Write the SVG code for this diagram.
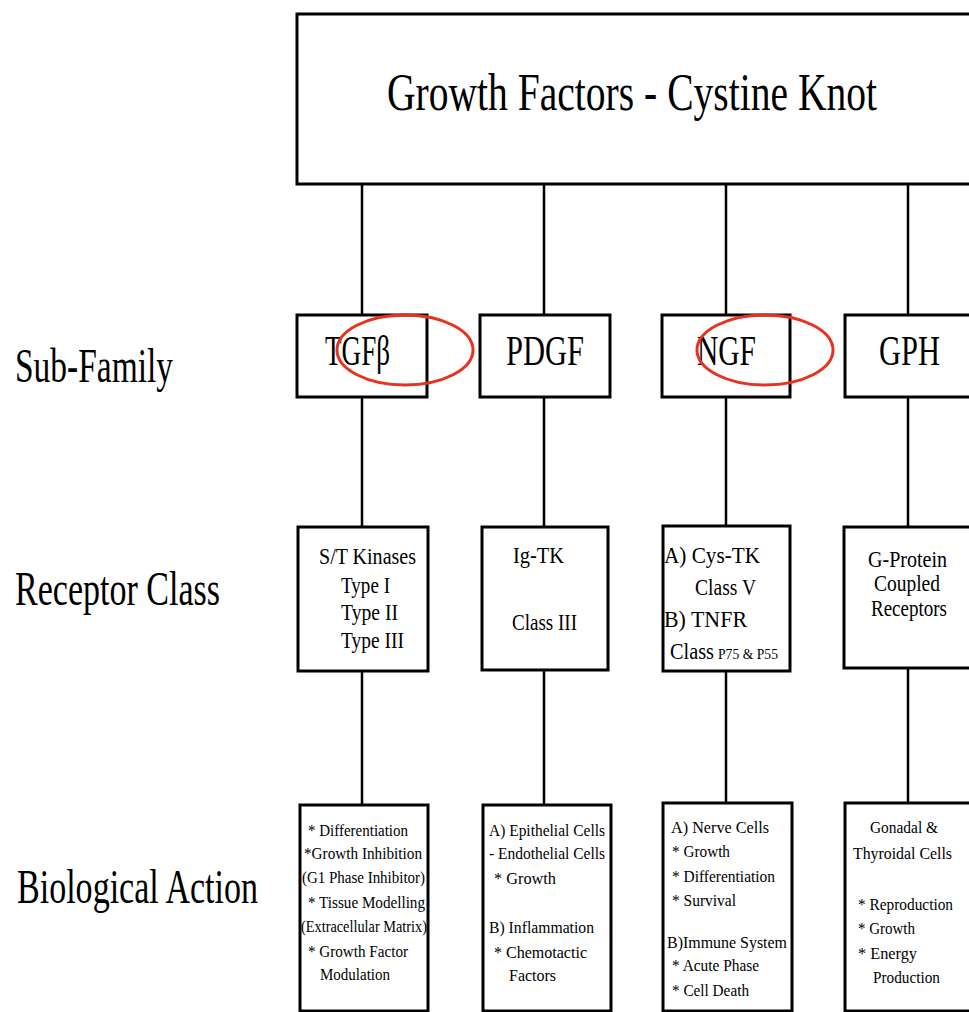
<svg xmlns="http://www.w3.org/2000/svg" width="969" height="1012" viewBox="0 0 969 1012">
<style>
.box{fill:#fff;stroke:#000;stroke-width:3}
.conn{stroke:#000;stroke-width:2.5;fill:none}
.t{font-family:"Liberation Serif","Times New Roman",serif;fill:#000}
.title{font-size:53px}
.row{font-size:48px}
.sub{font-size:42px}
.rc{font-size:24px}
.ba{font-size:16px}
.ring{fill:none;stroke:#e8321e;stroke-width:3}
</style>
<rect width="969" height="1012" fill="#fff"/>
<g id="connectors">
<line class="conn" x1="362" y1="184" x2="362" y2="314"/>
<line class="conn" x1="544" y1="184" x2="544" y2="314"/>
<line class="conn" x1="726" y1="184" x2="726" y2="314"/>
<line class="conn" x1="908" y1="184" x2="908" y2="314"/>
<line class="conn" x1="362" y1="397" x2="362" y2="527"/>
<line class="conn" x1="544" y1="397" x2="544" y2="527"/>
<line class="conn" x1="726" y1="397" x2="726" y2="526"/>
<line class="conn" x1="908" y1="397" x2="908" y2="527"/>
<line class="conn" x1="362" y1="671" x2="362" y2="805"/>
<line class="conn" x1="544" y1="670" x2="544" y2="805"/>
<line class="conn" x1="726" y1="671" x2="726" y2="803"/>
<line class="conn" x1="908" y1="668" x2="908" y2="803"/>
</g>
<g id="root">
<rect class="box" x="297" y="14" width="690" height="170"/>
<text class="t title" x="387" y="110" textLength="490" lengthAdjust="spacingAndGlyphs">Growth Factors - Cystine Knot</text>
</g>
<g id="labels">
<text class="t row" x="15" y="382" textLength="158" lengthAdjust="spacingAndGlyphs">Sub-Family</text>
<text class="t row" x="15" y="605" textLength="205" lengthAdjust="spacingAndGlyphs">Receptor Class</text>
<text class="t row" x="17" y="903" textLength="241" lengthAdjust="spacingAndGlyphs">Biological Action</text>
</g>
<g id="sf-tgfb">
<rect class="box" x="297" y="315" width="130" height="82"/>
<text class="t sub" x="325" y="365" textLength="65" lengthAdjust="spacingAndGlyphs">TGFβ</text>
</g>
<g id="sf-pdgf">
<rect class="box" x="480" y="315" width="130" height="82"/>
<text class="t sub" x="506" y="365" textLength="78" lengthAdjust="spacingAndGlyphs">PDGF</text>
</g>
<g id="sf-ngf">
<rect class="box" x="662" y="315" width="128" height="82"/>
<text class="t sub" x="697" y="365" textLength="59" lengthAdjust="spacingAndGlyphs">NGF</text>
</g>
<g id="sf-gph">
<rect class="box" x="845" y="315" width="140" height="82"/>
<text class="t sub" x="879" y="365" textLength="61" lengthAdjust="spacingAndGlyphs">GPH</text>
</g>
<g id="rc-tgfb">
<rect class="box" x="298" y="527" width="130" height="144"/>
<text class="t rc" x="319" y="564" textLength="97" lengthAdjust="spacingAndGlyphs">S/T Kinases</text>
<text class="t rc" x="341" y="593" textLength="49" lengthAdjust="spacingAndGlyphs">Type I</text>
<text class="t rc" x="341" y="620" textLength="57" lengthAdjust="spacingAndGlyphs">Type II</text>
<text class="t rc" x="341" y="648" textLength="63" lengthAdjust="spacingAndGlyphs">Type III</text>
</g>
<g id="rc-pdgf">
<rect class="box" x="482" y="527" width="126" height="143"/>
<text class="t rc" x="513" y="563" textLength="51" lengthAdjust="spacingAndGlyphs">Ig-TK</text>
<text class="t rc" x="512" y="630" textLength="65" lengthAdjust="spacingAndGlyphs">Class III</text>
</g>
<g id="rc-ngf">
<rect class="box" x="663" y="526" width="127" height="145"/>
<text class="t rc" x="664" y="563" textLength="96" lengthAdjust="spacingAndGlyphs">A) Cys-TK</text>
<text class="t rc" x="695" y="595" textLength="61" lengthAdjust="spacingAndGlyphs">Class V</text>
<text class="t rc" x="664" y="627" textLength="83" lengthAdjust="spacingAndGlyphs">B) TNFR</text>
<text class="t rc" x="670" y="659" textLength="44" lengthAdjust="spacingAndGlyphs">Class</text>
<text class="t" font-size="14" x="718" y="659" textLength="60" lengthAdjust="spacingAndGlyphs">P75 &amp; P55</text>
</g>
<g id="rc-gph">
<rect class="box" x="844" y="527" width="140" height="141"/>
<text class="t rc" x="868" y="567" textLength="79" lengthAdjust="spacingAndGlyphs">G-Protein</text>
<text class="t rc" x="874" y="591" textLength="66" lengthAdjust="spacingAndGlyphs">Coupled</text>
<text class="t rc" x="871" y="616" textLength="76" lengthAdjust="spacingAndGlyphs">Receptors</text>
</g>
<g id="ba-tgfb">
<rect class="box" x="300" y="805" width="128" height="206"/>
<text class="t ba" x="308" y="836" textLength="100" lengthAdjust="spacingAndGlyphs">* Differentiation</text>
<text class="t ba" x="304" y="859" textLength="118" lengthAdjust="spacingAndGlyphs">*Growth Inhibition</text>
<text class="t ba" x="302" y="883" textLength="123" lengthAdjust="spacingAndGlyphs">(G1 Phase Inhibitor)</text>
<text class="t ba" x="308" y="908" textLength="117" lengthAdjust="spacingAndGlyphs">* Tissue Modelling</text>
<text class="t ba" x="301" y="932" textLength="126" lengthAdjust="spacingAndGlyphs">(Extracellular Matrix)</text>
<text class="t ba" x="308" y="957" textLength="100" lengthAdjust="spacingAndGlyphs">* Growth Factor</text>
<text class="t ba" x="320" y="980" textLength="70" lengthAdjust="spacingAndGlyphs">Modulation</text>
</g>
<g id="ba-pdgf">
<rect class="box" x="483" y="805" width="128" height="206"/>
<text class="t ba" x="489" y="836" textLength="116" lengthAdjust="spacingAndGlyphs">A) Epithelial Cells</text>
<text class="t ba" x="489" y="859" textLength="116" lengthAdjust="spacingAndGlyphs">- Endothelial Cells</text>
<text class="t ba" x="494" y="884" textLength="62" lengthAdjust="spacingAndGlyphs">*  Growth</text>
<text class="t ba" x="489" y="933" textLength="105" lengthAdjust="spacingAndGlyphs">B) Inflammation</text>
<text class="t ba" x="494" y="958" textLength="93" lengthAdjust="spacingAndGlyphs">*  Chemotactic</text>
<text class="t ba" x="509" y="981" textLength="47" lengthAdjust="spacingAndGlyphs">Factors</text>
</g>
<g id="ba-ngf">
<rect class="box" x="663" y="803" width="129" height="208"/>
<text class="t ba" x="671" y="833" textLength="98" lengthAdjust="spacingAndGlyphs">A)  Nerve Cells</text>
<text class="t ba" x="672" y="857" textLength="58" lengthAdjust="spacingAndGlyphs">* Growth</text>
<text class="t ba" x="672" y="882" textLength="103" lengthAdjust="spacingAndGlyphs">* Differentiation</text>
<text class="t ba" x="672" y="906" textLength="64" lengthAdjust="spacingAndGlyphs">* Survival</text>
<text class="t ba" x="667" y="948" textLength="120" lengthAdjust="spacingAndGlyphs">B)Immune System</text>
<text class="t ba" x="672" y="971" textLength="87" lengthAdjust="spacingAndGlyphs">* Acute Phase</text>
<text class="t ba" x="672" y="996" textLength="77" lengthAdjust="spacingAndGlyphs">* Cell Death</text>
</g>
<g id="ba-gph">
<rect class="box" x="845" y="803" width="140" height="208"/>
<text class="t ba" x="870" y="833" textLength="68" lengthAdjust="spacingAndGlyphs">Gonadal &amp;</text>
<text class="t ba" x="853" y="859" textLength="99" lengthAdjust="spacingAndGlyphs">Thyroidal Cells</text>
<text class="t ba" x="858" y="910" textLength="95" lengthAdjust="spacingAndGlyphs">* Reproduction</text>
<text class="t ba" x="858" y="934" textLength="57" lengthAdjust="spacingAndGlyphs">* Growth</text>
<text class="t ba" x="858" y="959" textLength="59" lengthAdjust="spacingAndGlyphs">*  Energy</text>
<text class="t ba" x="873" y="983" textLength="67" lengthAdjust="spacingAndGlyphs">Production</text>
</g>
<g id="highlights">
<ellipse class="ring" cx="405" cy="350" rx="68" ry="35"/>
<ellipse class="ring" cx="765" cy="350" rx="68" ry="35"/>
</g>
</svg>
